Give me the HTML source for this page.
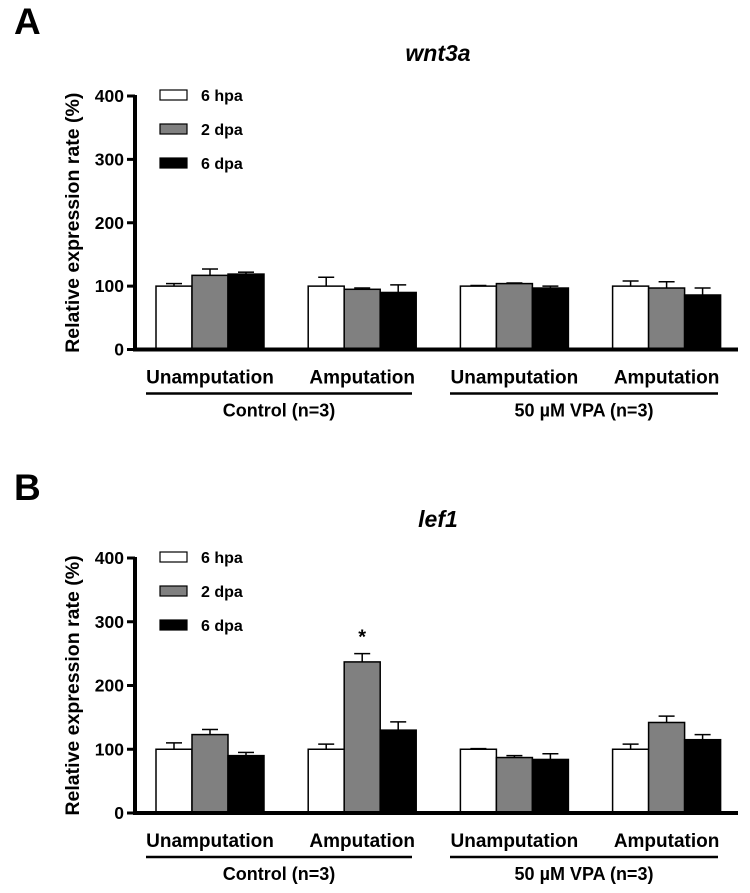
<!DOCTYPE html>
<html><head><meta charset="utf-8"><style>
html,body{margin:0;padding:0;background:#fff;}
svg{display:block;font-family:"Liberation Sans",Arial,sans-serif;font-weight:bold;}
</style></head><body>
<svg id="fig" width="750" height="893" viewBox="0 0 750 893" xmlns="http://www.w3.org/2000/svg"></svg>
<script>
const categories = ["Unamputation","Amputation","Unamputation","Amputation"];
const groupLabels = ["Control (n=3)","50 µM VPA (n=3)"];
const seriesNames = ["6 hpa","2 dpa","6 dpa"];
const yTicks = [0,100,200,300,400];
// panel A: wnt3a
const wntHpa = [100,100,100,100];
const wntHpaErr = [4,14,1,8];
const wnt2dpa = [117,95,104,97];
const wnt2dpaErr = [10,2,1,10];
const wnt6dpa = [119,90,97,86];
const wnt6dpaErr = [3,12,3,11];
// panel B: lef1
const lefHpa = [100,100,100,100];
const lefHpaErr = [10,8,1,8];
const lef2dpa = [123,237,87,142];
const lef2dpaErr = [8,13,3,10];
const lef6dpa = [90,130,84,115];
const lef6dpaErr = [5,13,9,8];
const lefStars = [[null,null,null],[null,"*",null],[null,null,null],[null,null,null]];

const NS="http://www.w3.org/2000/svg";
const svg=document.getElementById('fig');
function mk(tag,attrs,parent,text){
  const e=document.createElementNS(NS,tag);
  for(const k in attrs)e.setAttribute(k,attrs[k]);
  if(text!==undefined)e.textContent=text;
  (parent||svg).appendChild(e);return e;
}
const fills=["#ffffff","#808080","#000000"];
function panel(letter,title,top,y0,y400,vals,errs,stars,key){
  const g=mk('g',{});
  
  
  const yS=v=>y0-(v/400)*(y0-y400);
  const axX=135;
  const t1=mk('text',{x:14,y:top+34,'font-size':37},g,letter);
  
  const t2=mk('text',{x:438,y:top+61,'font-size':23,'font-style':'italic','text-anchor':'middle'},g,title);
  
  const yt=mk('text',{x:0,y:0,'font-size':19.5,'text-anchor':'middle',transform:`translate(79,${(y0+y400)/2}) rotate(-90)`},g,'Relative expression rate (%)');
  
  const ya=mk('line',{x1:axX,y1:y400-1,x2:axX,y2:y0+2,stroke:'#000','stroke-width':4},g);
  
  yTicks.forEach(v=>{
    const y=yS(v);
    mk('line',{x1:axX-8,y1:y,x2:axX,y2:y,stroke:'#000','stroke-width':3},g);
    const tl=mk('text',{x:axX-11,y:y+6,'font-size':17.5,'text-anchor':'end'},g,String(v));
    
  });
  const bw=36, g0=156, gs=152.2;
  categories.forEach((c,i)=>{
    const gx=g0+i*gs;
    for(let s=0;s<3;s++){
      const x=gx+s*bw, v=vals[s][i], e=errs[s][i];
      const top2=yS(v), et=yS(v+e);
      mk('line',{x1:x+bw/2,y1:top2,x2:x+bw/2,y2:et,stroke:'#000','stroke-width':1.5},g);
      mk('line',{x1:x+bw/2-8,y1:et,x2:x+bw/2+8,y2:et,stroke:'#000','stroke-width':1.5},g);
      const r=mk('rect',{x:x,y:top2,width:bw,height:y0-top2,fill:fills[s],stroke:'#000','stroke-width':1.5},g);
      
      
      if(stars && stars[i][s]){
        const st=mk('text',{x:x+bw/2,y:et-10,'font-size':20,'text-anchor':'middle'},g,stars[i][s]);
        
      }
    }
    const cl=mk('text',{x:gx+1.5*bw,y:y0+34,'font-size':19,'text-anchor':'middle'},g,c);
    
  });
  const xa=mk('line',{x1:axX-2,y1:y0,x2:738,y2:y0,stroke:'#000','stroke-width':4},g);
  
  const lines=[[146,412],[450,718]];
  groupLabels.forEach((lab,j)=>{
    mk('line',{x1:lines[j][0],y1:y0+44,x2:lines[j][1],y2:y0+44,stroke:'#000','stroke-width':2.5},g);
    const gl=mk('text',{x:(lines[j][0]+lines[j][1])/2,y:y0+67,'font-size':18,'text-anchor':'middle'},g,lab);
    
  });
  seriesNames.forEach((n,s)=>{
    const ly=y400-1+s*34;
    const lg=mk('g',{},g);
    
    
    mk('rect',{x:160,y:ly-5,width:27,height:10,fill:fills[s],stroke:'#000','stroke-width':1.2},lg);
    mk('text',{x:201,y:ly+6,'font-size':16},lg,n);
  });
}
panel('A','wnt3a',0,349.5,96,[wntHpa,wnt2dpa,wnt6dpa],[wntHpaErr,wnt2dpaErr,wnt6dpaErr],null,'wnt3a');
panel('B','lef1',466,813,558,[lefHpa,lef2dpa,lef6dpa],[lefHpaErr,lef2dpaErr,lef6dpaErr],lefStars,'lef1');
</script>
</body></html>
